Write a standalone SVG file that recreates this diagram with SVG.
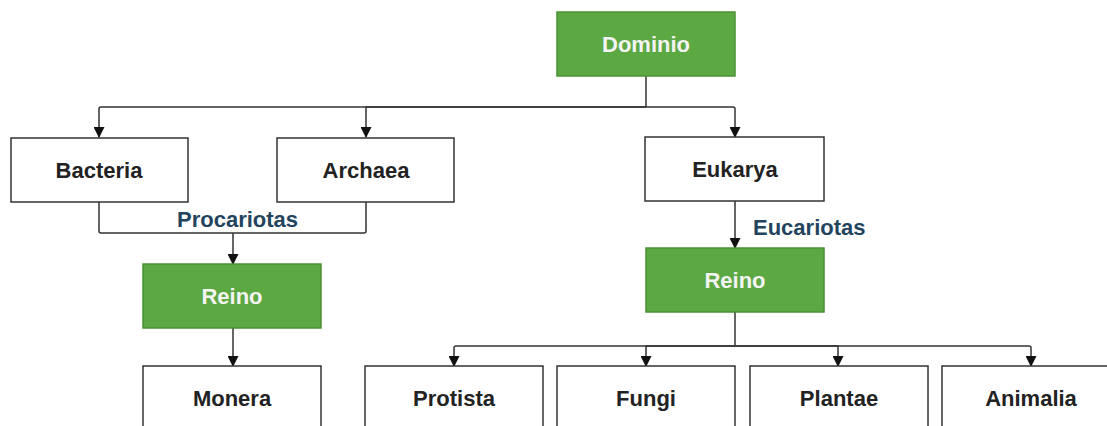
<svg xmlns="http://www.w3.org/2000/svg" width="1107" height="426" viewBox="0 0 1107 426">
<style>
.box{fill:#ffffff;stroke:#333333;stroke-width:1.5}
.green{fill:#5ca843;stroke:#4a9135;stroke-width:1.5}
.t{font-family:"Liberation Sans",Arial,sans-serif;font-size:22px;font-weight:bold;text-anchor:middle;dominant-baseline:central;fill:#222222}
.tw{fill:#f4f4f4}
.lbl{font-family:"Liberation Sans",Arial,sans-serif;font-size:22px;font-weight:bold;fill:#23445d}
.c{fill:none;stroke:#333333;stroke-width:1.5;stroke-linejoin:round}
</style>
<defs>
<marker id="arr" markerWidth="11" markerHeight="11" refX="10" refY="5.5" orient="auto" markerUnits="userSpaceOnUse">
<path d="M0,0 L11,5.5 L0,11 Z" fill="#111111"/>
</marker>
</defs>
<rect width="1107" height="426" fill="#ffffff"/>
<g id="connectors">
<path class="c" d="M646,76 V107"/>
<path class="c" d="M646,107 H101 Q99,107 99,109 V137" marker-end="url(#arr)"/>
<path class="c" d="M646,107 H366 V137" marker-end="url(#arr)"/>
<path class="c" d="M646,107 H733 Q735,107 735,109 V137" marker-end="url(#arr)"/>
<path class="c" d="M99,202 V231 Q99,233 101,233 H364 Q366,233 366,231 V202"/>
<path class="c" d="M233,233 V264" marker-end="url(#arr)"/>
<path class="c" d="M233,328 V366" marker-end="url(#arr)"/>
<path class="c" d="M735,201 V248" marker-end="url(#arr)"/>
<path class="c" d="M735,312 V346"/>
<path class="c" d="M735,346 H456 Q454,346 454,348 V366" marker-end="url(#arr)"/>
<path class="c" d="M735,346 H646 V366" marker-end="url(#arr)"/>
<path class="c" d="M735,346 H838 V366" marker-end="url(#arr)"/>
<path class="c" d="M735,346 H1029 Q1031,346 1031,348 V366" marker-end="url(#arr)"/>
<text class="lbl" x="177" y="227">Procariotas</text>
<text class="lbl" x="753" y="235">Eucariotas</text>
</g>
<g id="dominio"><rect class="green" x="557" y="12" width="178" height="64"/><text class="t tw" x="646" y="44">Dominio</text></g>
<g id="bacteria"><rect class="box" x="11" y="138" width="177" height="64"/><text class="t" x="99" y="170">Bacteria</text></g>
<g id="archaea"><rect class="box" x="277" y="138" width="177" height="64"/><text class="t" x="366" y="170">Archaea</text></g>
<g id="eukarya"><rect class="box" x="645" y="137" width="179" height="64"/><text class="t" x="735" y="169">Eukarya</text></g>
<g id="reino-pro"><rect class="green" x="143" y="264" width="178" height="64"/><text class="t tw" x="232" y="296">Reino</text></g>
<g id="reino-euc"><rect class="green" x="646" y="248" width="178" height="64"/><text class="t tw" x="735" y="280">Reino</text></g>
<g id="monera"><rect class="box" x="143" y="366" width="178" height="64"/><text class="t" x="232" y="398">Monera</text></g>
<g id="protista"><rect class="box" x="365" y="366" width="178" height="64"/><text class="t" x="454" y="398">Protista</text></g>
<g id="fungi"><rect class="box" x="557" y="366" width="178" height="64"/><text class="t" x="646" y="398">Fungi</text></g>
<g id="plantae"><rect class="box" x="750" y="366" width="178" height="64"/><text class="t" x="839" y="398">Plantae</text></g>
<g id="animalia"><rect class="box" x="942" y="366" width="178" height="64"/><text class="t" x="1031" y="398">Animalia</text></g>
</svg>
